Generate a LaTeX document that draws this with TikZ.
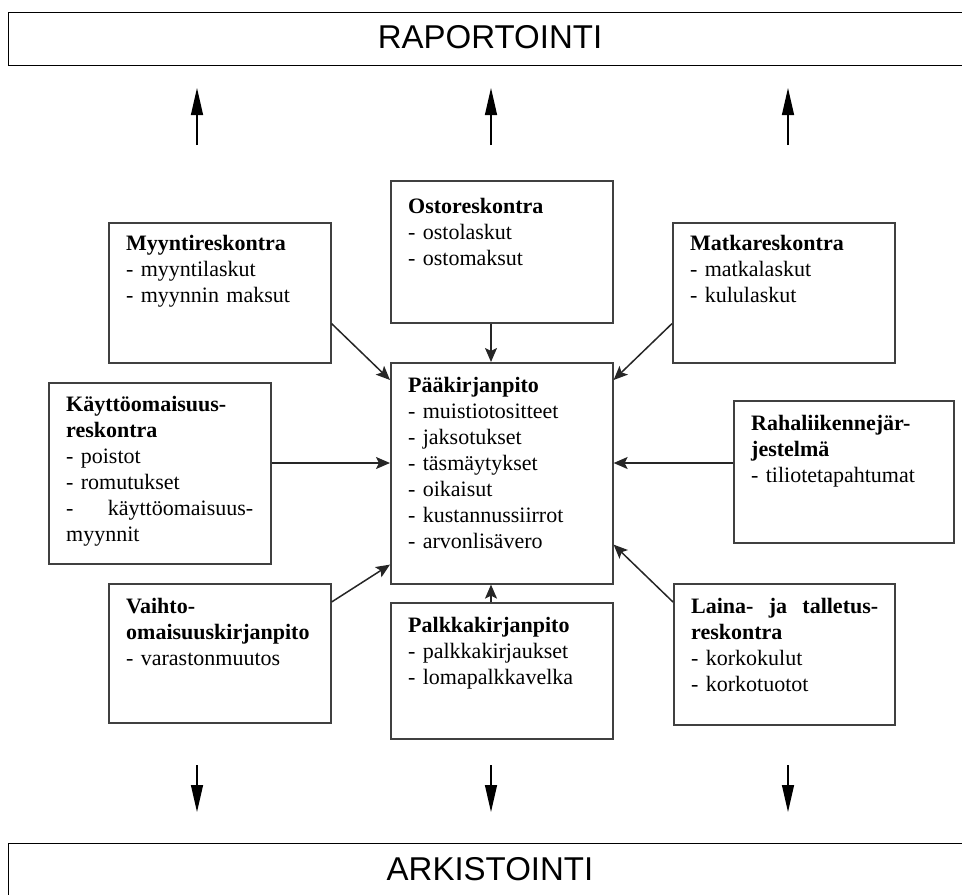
\documentclass[tikz,border=0pt]{standalone}
\usepackage{fontspec}
\setmainfont{Liberation Serif}
\newfontfamily\bandfont{Liberation Sans}
\usetikzlibrary{arrows.meta}

\begin{document}
\begin{tikzpicture}[x=1pt,y=-1pt,
  acct/.style={draw=black!75, line width=1.6pt, fill=white, inner sep=0pt,
    anchor=north west, minimum width=222pt},
  acctext/.style={anchor=base west, inner sep=0pt, text width=187pt, align=left,
    font=\fontsize{22}{26}\selectfont},
  band/.style={draw=black, line width=1.4pt, inner sep=0pt, anchor=north west,
    minimum width=1000pt, minimum height=53pt},
  bandtext/.style={inner sep=0pt, font=\bandfont\fontsize{33}{40}\selectfont},
  flow/.style={-{Stealth[length=14pt,width=12pt,inset=3pt]}, line width=1.5pt, black!85},
  outflow/.style={-{Triangle[length=27pt,width=12pt]}, line width=1.3pt, black}]

\useasboundingbox (0,0) rectangle (962,895);
\clip (0,0) rectangle (962,895);

% reporting and archiving bands
\node[band] (rap) at (8,12) {};
\node[bandtext] (rapT) at (490,37) {RAPORTOINTI};
\node[band, minimum height=80pt] (ark) at (8,843) {};
\node[bandtext] (arkT) at (490,869) {ARKISTOINTI};

% ledger boxes
\node[acct, minimum height=140pt] (myy) at (108,222) {};
\node[acct, minimum height=142pt] (osto) at (390,180) {};
\node[acct, minimum height=140pt] (matka) at (672,222) {};
\node[acct, minimum height=181pt] (kayt) at (48,382) {};
\node[acct, minimum height=221pt] (paa) at (390,362) {};
\node[acct, minimum width=220pt, minimum height=142pt] (raha) at (733,400) {};
\node[acct, minimum height=139pt] (vaih) at (108,583) {};
\node[acct, minimum height=136pt] (palk) at (390,602) {};
\node[acct, minimum width=221pt, minimum height=141pt] (laina) at (673,583) {};

% box contents
\node[acctext] (myyT) at (126,250) {\textbf{Myyntireskontra}\\- myyntilaskut\\- myynnin maksut};
\node[acctext] (ostoT) at (408,213) {\textbf{Ostoreskontra}\\- ostolaskut\\- ostomaksut};
\node[acctext] (matkaT) at (690,250) {\textbf{Matkareskontra}\\- matkalaskut\\- kululaskut};
\node[acctext] (kaytT) at (66,411) {\textbf{Käyttöomaisuus-}\\\textbf{reskontra}\\- poistot\\- romutukset\\-\hfill käyttöomaisuus-\\myynnit};
\node[acctext] (paaT) at (408,392) {\textbf{Pääkirjanpito}\\- muistiotositteet\\- jaksotukset\\- täsmäytykset\\- oikaisut\\- kustannussiirrot\\- arvonlisävero};
\node[acctext] (rahaT) at (751,430) {\textbf{Rahaliikennejär-}\\\textbf{jestelmä}\\- tiliotetapahtumat};
\node[acctext] (vaihT) at (126,613) {\textbf{Vaihto-}\\\textbf{omaisuuskirjanpito}\\- varastonmuutos};
\node[acctext] (palkT) at (408,632) {\textbf{Palkkakirjanpito}\\- palkkakirjaukset\\- lomapalkkavelka};
\node[acctext] (lainaT) at (691,613) {\textbf{Laina-\hfill ja\hfill talletus-}\\\textbf{reskontra}\\- korkokulut\\- korkotuotot};

% reference lines for the straight connectors
\coordinate (midx) at (491,0);
\coordinate (rowy) at (0,463);

% flows into the general ledger
\draw[flow] ([yshift=40pt]myy.south east) -- ([yshift=-18pt]paa.north west);
\draw[flow] (osto.south -| midx) -- (paa.north -| midx);
\draw[flow] ([yshift=40pt]matka.south west) -- ([yshift=-18pt]paa.north east);
\draw[flow] (kayt.east |- rowy) -- (paa.west |- rowy);
\draw[flow] (raha.west |- rowy) -- (paa.east |- rowy);
\draw[flow] ([yshift=-19pt]vaih.north east) -- ([yshift=20pt]paa.south west);
\draw[flow] (palk.north -| midx) -- (paa.south -| midx);
\draw[flow] ([yshift=-19pt]laina.north west) -- ([yshift=40pt]paa.south east);

% outputs to reporting and archiving
\foreach \i/\x in {1/197,2/491,3/788}{
  \coordinate (up\i a) at (\x,145);
  \coordinate (up\i b) at (\x,88);
  \coordinate (dn\i a) at (\x,765);
  \coordinate (dn\i b) at (\x,812);
  \draw[outflow] (up\i a) -- (up\i b);
  \draw[outflow] (dn\i a) -- (dn\i b);
}
\end{tikzpicture}
\end{document}
